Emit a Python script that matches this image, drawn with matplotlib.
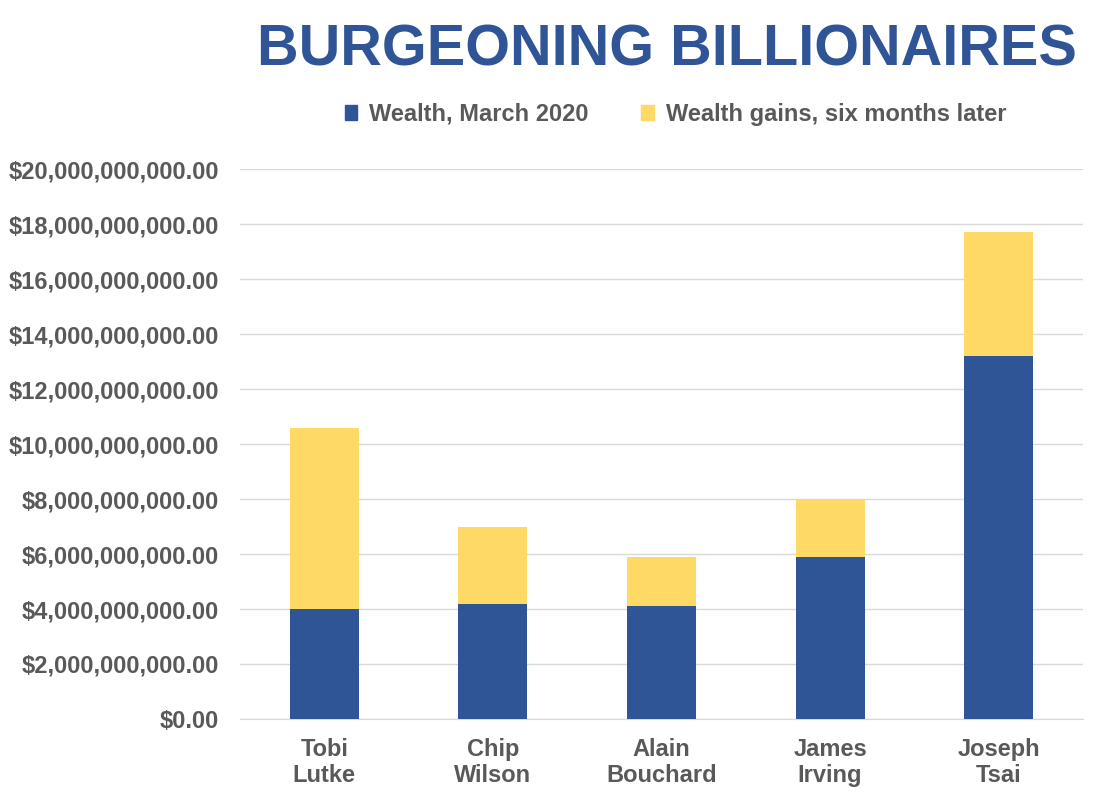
import numpy as np
import matplotlib.pyplot as plt
from matplotlib.patches import Patch
from matplotlib.ticker import FuncFormatter

plt.rcParams['font.family'] = ['Liberation Sans', 'DejaVu Sans']
plt.rcParams['font.weight'] = 'bold'

# data (billions of dollars)
names = ["Tobi\nLutke", "Chip\nWilson", "Alain\nBouchard", "James\nIrving", "Joseph\nTsai"]
wealth_march = [4.0, 4.2, 4.1, 5.9, 13.2]
wealth_gains = [6.6, 2.8, 1.8, 2.1, 4.5]
yticks = np.arange(0, 21, 2)

blue = "#2F5597"
yellow = "#FFD966"
grey = "#595959"

fig = plt.figure(figsize=(10.98, 8.06), dpi=100)
ax = fig.add_axes([0.2186, 0.108, 0.7677, 0.682])

x = np.arange(len(names))
base = np.array(wealth_march) * 1e9
gain = np.array(wealth_gains) * 1e9
ax.bar(x, base, width=0.41, color=blue, zorder=3)
ax.bar(x, gain, width=0.41, bottom=base, color=yellow, zorder=3)

ax.set_xlim(-0.5, len(names) - 0.5)
ax.set_ylim(0, 20e9)
ax.set_yticks(yticks * 1e9)
ax.yaxis.set_major_formatter(FuncFormatter(lambda v, p: f"${v:,.2f}"))
ax.set_xticks(x)
ax.set_xticklabels(names, linespacing=1.15)

ax.grid(axis='y', color="#D9D9D9", linewidth=1, zorder=0)
for s in ['top', 'right', 'left']:
    ax.spines[s].set_visible(False)
ax.spines['bottom'].set_color("#D9D9D9")
ax.tick_params(axis='y', length=0, pad=15, labelsize=17, labelcolor=grey)
ax.tick_params(axis='x', length=0, pad=14, labelsize=17, labelcolor=grey)
for lbl in ax.get_xticklabels() + ax.get_yticklabels():
    lbl.set_fontweight('bold')

fig.text(0.607, 0.937, "BURGEONING BILLIONAIRES", ha='center', va='center',
         fontsize=41.5, fontweight='bold', color=blue)

handles = [Patch(color=blue, label="Wealth, March 2020"),
           Patch(color=yellow, label="Wealth gains, six months later")]
leg = fig.legend(handles=handles, loc='center', bbox_to_anchor=(0.615, 0.858), ncol=2,
                 frameon=False, fontsize=17, handlelength=0.55, handleheight=0.55,
                 handletextpad=0.5, columnspacing=2.2)
for t in leg.get_texts():
    t.set_color(grey)
    t.set_fontweight('bold')

fig.savefig("out.png", dpi=100)
